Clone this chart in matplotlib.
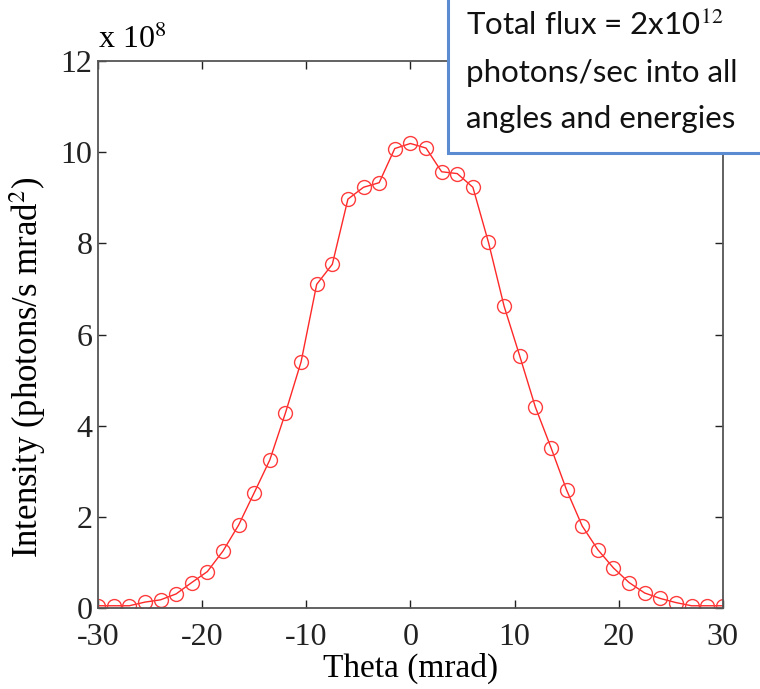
import numpy as np
import matplotlib.pyplot as plt
from matplotlib.patches import Rectangle

theta = np.arange(-30, 30.01, 1.5)
intensity = [0.05, 0.05, 0.05, 0.13, 0.18, 0.31, 0.56, 0.80, 1.25, 1.82,
             2.53, 3.25, 4.28, 5.40, 7.10, 7.54, 8.97, 9.23, 9.33, 10.08,
             10.19, 10.09, 9.57, 9.53, 9.23, 8.02, 6.62, 5.53, 4.41, 3.52,
             2.59, 1.80, 1.28, 0.88, 0.56, 0.33, 0.21, 0.12, 0.05, 0.05, 0.05]
xticks = [-30, -20, -10, 0, 10, 20, 30]
yticks = [0, 2, 4, 6, 8, 10, 12]

plt.rcParams['font.family'] = ['Liberation Serif', 'DejaVu Serif']
plt.rcParams['mathtext.fontset'] = 'stix'
plt.rcParams['axes.unicode_minus'] = False

fig = plt.figure(figsize=(7.6, 6.89), dpi=100)
ax = fig.add_axes([0.129, 0.1175, 0.822, 0.794])
ax.plot(theta, intensity, color='#ff2828', lw=1.0, marker='o', ms=10,
        mfc='none', mec='#ff3c3c', mew=1.0)
ax.set_xlim(-30, 30)
ax.set_ylim(0, 12)
ax.set_xticks(xticks)
ax.set_yticks(yticks)
ax.tick_params(direction='in', top=True, right=True, labelsize=23, length=6,
               width=1, colors='#222222')
ax.tick_params(axis='x', pad=11)
ax.tick_params(axis='y', pad=4)
for s in ax.spines.values():
    s.set_color('#555555')
    s.set_linewidth(1.3)
ax.set_xlabel('Theta (mrad)', fontsize=24, labelpad=0)
ax.set_ylabel('Intensity (photons/s mrad$^2$)', fontsize=25)
ax.yaxis.set_label_coords(-0.08, 0.44)

fig.text(0.129, 0.93, r'x 10$^{8}$', fontsize=23, ha='left', va='baseline')

# annotation box in the top-right corner
box = Rectangle((448 / 760, 1 - 153 / 689), 0.5, 0.5, transform=fig.transFigure,
                facecolor='white', edgecolor='#5b8bd0', lw=2.2, zorder=10)
fig.add_artist(box)
lines = ['Total flux = 2x10$^{12}$', 'photons/sec into all', 'angles and energies']
for k, t in enumerate(lines):
    fig.text(466 / 760, 1 - (36 + 46 * k) / 689, t, fontsize=22.5, family='Lato',
             ha='left', va='baseline', color='#111111', zorder=11)

fig.savefig('out.png', dpi=100)
